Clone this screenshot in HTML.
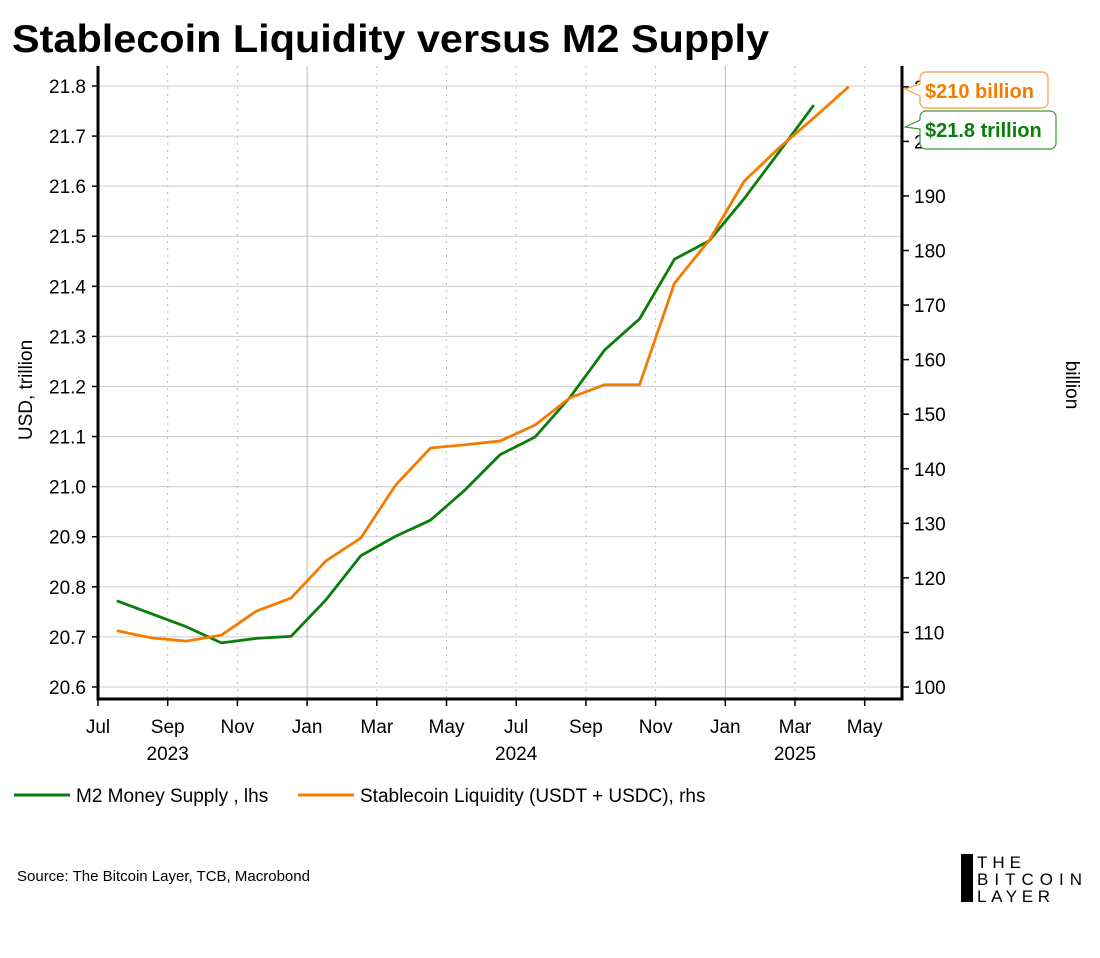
<!DOCTYPE html>
<html><head><meta charset="utf-8">
<style>
body{margin:0;background:#fff;width:1100px;height:953px;overflow:hidden;font-family:"Liberation Sans",sans-serif;}
svg text{font-family:"Liberation Sans",sans-serif;}
</style></head>
<body>
<svg id="chart" width="1100" height="953" xmlns="http://www.w3.org/2000/svg">
<text x="12" y="52" font-size="39" font-weight="bold" fill="#000" textLength="757" lengthAdjust="spacingAndGlyphs">Stablecoin Liquidity versus M2 Supply</text>
<g id="grid"></g><g id="axes"></g><g id="series"></g>
<text transform="translate(32,390) rotate(-90)" text-anchor="middle" font-size="19">USD, trillion</text>
<text transform="translate(1066,385) rotate(90)" text-anchor="middle" font-size="19">billion</text>
<g>
<line x1="14" y1="795" x2="70" y2="795" stroke="#0a7d0a" stroke-width="3"/>
<text x="76" y="802" font-size="19">M2 Money Supply , lhs</text>
<line x1="298" y1="795" x2="354" y2="795" stroke="#f57c00" stroke-width="3"/>
<text x="360" y="802" font-size="19">Stablecoin Liquidity (USDT + USDC), rhs</text>
</g>
<text x="17" y="881" font-size="15">Source: The Bitcoin Layer, TCB, Macrobond</text>
<g>
<rect x="961" y="854" width="12" height="48" fill="#000"/>
<text x="977" y="868" font-size="17" textLength="44" lengthAdjust="spacing">THE</text>
<text x="977" y="885" font-size="17" textLength="105" lengthAdjust="spacing">BITCOIN</text>
<text x="977" y="902" font-size="17" textLength="73" lengthAdjust="spacing">LAYER</text>
</g>
<g>
<path d="M926,72 H1042 a6,6 0 0 1 6,6 V102 a6,6 0 0 1 -6,6 H926 a6,6 0 0 1 -6,-6 V96 L905,89 L920,84 V78 a6,6 0 0 1 6,-6Z" fill="#fff" stroke="#f5a040" stroke-width="1.2"/>
<text x="925" y="98" font-size="20" font-weight="bold" fill="#f57c00">$210 billion</text>
</g>
<g>
<path d="M926,111 H1050 a6,6 0 0 1 6,6 V143 a6,6 0 0 1 -6,6 H926 a6,6 0 0 1 -6,-6 V129 L905,127 L920,120 V117 a6,6 0 0 1 6,-6Z" fill="#fff" stroke="#3a9a3a" stroke-width="1.2"/>
<text x="925" y="137" font-size="20" font-weight="bold" fill="#0a7d0a">$21.8 trillion</text>
</g>
</svg>
<script>
const m2Values=[20.772,20.746,20.72,20.688,20.697,20.701,20.774,20.862,20.901,20.933,20.994,21.064,21.099,21.178,21.273,21.335,21.454,21.491,21.575,21.668,21.762];
const stableValues=[110.3,109.0,108.4,109.5,113.9,116.3,123.1,127.3,137.0,143.8,144.4,145.1,148.0,153.0,155.4,155.4,174.0,181.9,192.7,198.8,204.3,210.0];
const leftTicks=[20.6,20.7,20.8,20.9,21.0,21.1,21.2,21.3,21.4,21.5,21.6,21.7,21.8];
const rightTicks=[100,110,120,130,140,150,160,170,180,190,200,210];
const monthLabels=["Jul","Sep","Nov","Jan","Mar","May","Jul","Sep","Nov","Jan","Mar","May"];
const yearLabels=[["2023",1],["2024",6],["2025",10]];
const firstOffset=0.54;
const NS="http://www.w3.org/2000/svg";
const L=98,R=902,B=699;
const xM=m=>98+m*34.85;
const yL=v=>86+(21.8-v)*500.8;
const yR=v=>687-(v-100)*5.456;
function mk(t,a,p){const e=document.createElementNS(NS,t);for(const k in a)e.setAttribute(k,a[k]);p.appendChild(e);return e;}
const grid=document.getElementById('grid'),axes=document.getElementById('axes'),ser=document.getElementById('series');
leftTicks.forEach(v=>{
 const g=mk('line',{x1:L,x2:R,y1:yL(v),y2:yL(v),stroke:'#cccccc','stroke-width':1},grid);
 
 
 mk('line',{x1:L-6,x2:L,y1:yL(v),y2:yL(v),stroke:'#000','stroke-width':1.5},axes);
 const t=mk('text',{x:L-12,y:yL(v)+7,'text-anchor':'end','font-size':19},axes);
 t.textContent=v.toFixed(1);
 
 
});
rightTicks.forEach(v=>{
 mk('line',{x1:R,x2:R+7,y1:yR(v),y2:yR(v),stroke:'#000','stroke-width':1.5},axes);
 const t=mk('text',{x:R+12,y:yR(v)+7,'font-size':19},axes);
 t.textContent=v;
 
 
});
monthLabels.forEach((lab,i)=>{
 const x=xM(i*2);
 if(i>0){const g=mk('line',{x1:x,x2:x,y1:66,y2:B,stroke:'#bbbbbb','stroke-width':1,'stroke-dasharray':lab==="Jan"?'':'2,5'},grid);
 
 }
 mk('line',{x1:x,x2:x,y1:B,y2:B+7,stroke:'#000','stroke-width':1.5},axes);
 const t=mk('text',{x:x,y:733,'text-anchor':'middle','font-size':19},axes);
 t.textContent=lab;
 
 
});
yearLabels.forEach(([y,i])=>{
 const t=mk('text',{x:xM(i*2),y:760,'text-anchor':'middle','font-size':19},axes);
 t.textContent=y;
 
 
});
mk('line',{x1:L,x2:L,y1:66,y2:B+1.5,stroke:'#000','stroke-width':3},axes);
mk('line',{x1:R,x2:R,y1:66,y2:B+1.5,stroke:'#000','stroke-width':3},axes);
mk('line',{x1:L-1.5,x2:R+1.5,y1:B,y2:B,stroke:'#000','stroke-width':3},axes);
const p1=mk('polyline',{points:m2Values.map((v,i)=>xM(firstOffset+i)+','+yL(v)).join(' '),fill:'none',stroke:'#0a7d0a','stroke-width':2.8,'stroke-linejoin':'round'},ser);


const p2=mk('polyline',{points:stableValues.map((v,i)=>xM(firstOffset+i)+','+yR(v)).join(' '),fill:'none',stroke:'#f57c00','stroke-width':2.8,'stroke-linejoin':'round'},ser);


</script>
</body></html>
